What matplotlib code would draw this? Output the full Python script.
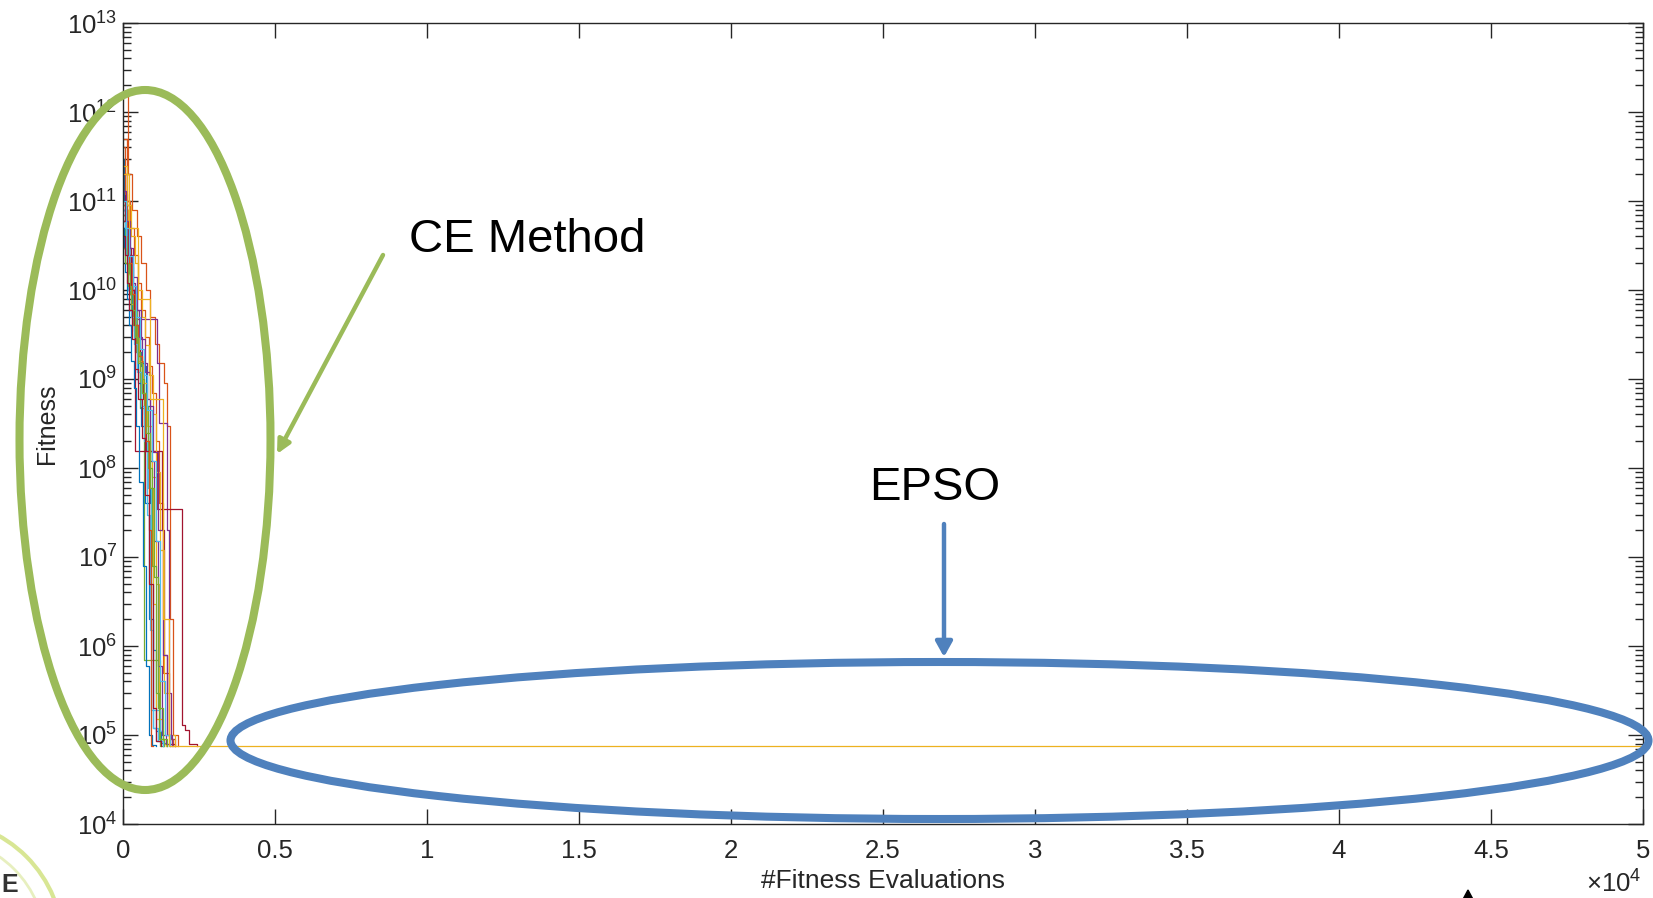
import numpy as np
import matplotlib
matplotlib.use("Agg")
import matplotlib.pyplot as plt
from matplotlib.patches import Ellipse, Arc, Polygon
from matplotlib.ticker import LogLocator, FixedLocator, FuncFormatter

plt.rcParams["font.family"] = ["Liberation Sans", "DejaVu Sans"]
plt.rcParams["mathtext.fontset"] = "custom"
plt.rcParams["mathtext.rm"] = "Liberation Sans"
plt.rcParams["mathtext.it"] = "Liberation Sans:italic"

# MATLAB default colour order
matlab_colors = ["#0072BD", "#D95319", "#EDB120", "#7E2F8E", "#77AC30", "#4DBEEE", "#A2142F"]

# CE method runs: evaluations and best fitness
ce_x_01 = [0, 50, 120, 200, 280, 350, 450, 600, 750, 900, 1000, 1100, 1250, 1450]
ce_y_01 = [1.1e11, 7e10, 3e10, 1.5e10, 6e9, 3.5e9, 2e9, 1.4e9, 5e8, 4e7, 9e5, 1.1e5, 8.2e4, 7.5e4]
ce_x_02 = [0, 150, 300, 450, 600, 750, 900, 1050, 1200, 1350, 1450, 1550, 1650, 1800]
ce_y_02 = [1.5e12, 2e11, 8e10, 4e10, 2e10, 1e10, 5e9, 2.5e9, 1.5e9, 9e8, 3e8, 2e6, 1e5, 7.5e4]
ce_x_03 = [0, 80, 160, 240, 330, 420, 520, 640, 760, 880, 980, 1080, 1200, 1350]
ce_y_03 = [1.5e11, 8e10, 3e10, 1.2e10, 7e9, 4e9, 1.8e9, 7e8, 2e8, 6e7, 3e6, 1.5e5, 9e4, 7.5e4]
ce_x_04 = [0, 100, 200, 330, 460, 1120, 1200, 1450, 1500, 1580, 1700]
ce_y_04 = [6e10, 4.5e10, 2e10, 1e10, 4.7e9, 1.5e9, 3.2e8, 2e7, 3e5, 9e4, 7.5e4]
ce_x_05 = [0, 100, 200, 300, 450, 550, 700, 1220, 1300]
ce_y_05 = [9e10, 4e10, 1.5e10, 6e9, 2e9, 4.7e8, 7e5, 7.5e4, 7.5e4]
ce_x_06 = [0, 60, 140, 230, 330, 430, 560, 700, 820, 930, 1220, 1300, 1450]
ce_y_06 = [2e11, 9e10, 4e10, 1.8e10, 8e9, 3e9, 1.2e9, 4e8, 6e7, 1.9e5, 1.1e5, 8e4, 7.5e4]
ce_x_07 = [0, 100, 250, 400, 550, 650, 750, 1120, 1930, 2050, 2180, 2430]
ce_y_07 = [6e10, 3e10, 1e10, 4e9, 1.5e9, 6e8, 1.55e8, 3.5e7, 1.3e5, 1.15e5, 8e4, 7.5e4]
ce_x_08 = [0, 40, 90, 150, 220, 300, 380, 480, 600, 720, 850, 980, 1100, 1300]
ce_y_08 = [3e11, 1e11, 5e10, 2e10, 9e9, 4e9, 2e9, 9e8, 3e8, 4e7, 2e6, 1.2e5, 8.5e4, 7.5e4]
ce_x_09 = [0, 120, 240, 360, 480, 600, 720, 840, 960, 1080, 1200, 1320, 1500, 1650]
ce_y_09 = [5e11, 1e11, 5e10, 2.5e10, 1.2e10, 6e9, 3e9, 1.4e9, 7e8, 2e8, 4e7, 5e5, 9e4, 7.5e4]
ce_x_10 = [0, 70, 150, 250, 350, 500, 650, 800, 950, 1080, 1180, 1300, 1400]
ce_y_10 = [4e10, 3e10, 1.5e10, 7e9, 3e9, 1.6e9, 9e8, 3e8, 8e7, 5e6, 1.5e5, 8e4, 7.5e4]
ce_x_11 = [0, 90, 180, 280, 400, 520, 640, 780, 900, 1020, 1150, 1280, 1400, 1550]
ce_y_11 = [1e11, 5e10, 2.5e10, 1.2e10, 6e9, 3e9, 1.5e9, 6e8, 1.2e8, 1.5e7, 6e5, 1e5, 8e4, 7.5e4]
ce_x_12 = [0, 60, 130, 220, 320, 440, 560, 690, 820, 950, 1080, 1200, 1350]
ce_y_12 = [7e10, 4e10, 2e10, 9e9, 4e9, 2e9, 1e9, 5e8, 1e8, 8e6, 3e5, 9e4, 7.5e4]
ce_x_13 = [0, 50, 110, 180, 260, 350, 460, 580, 700, 800, 900, 1000, 1150, 1300]
ce_y_13 = [8e10, 5e10, 2.5e10, 1e10, 5e9, 2.5e9, 1.2e9, 5e8, 2e8, 3e7, 1.5e6, 1.2e5, 8.5e4, 7.5e4]
ce_x_14 = [0, 80, 170, 260, 360, 400, 1290, 1350, 1450, 1550, 1700]
ce_y_14 = [2e11, 6e10, 2.5e10, 1e10, 4e9, 1.55e8, 2e7, 8e5, 1e5, 8e4, 7.5e4]
ce_x_15 = [0, 30, 80, 140, 200, 270, 350, 440, 540, 650, 760, 860, 950, 1100]
ce_y_15 = [5e10, 3e10, 1.6e10, 8e9, 4e9, 1.6e9, 8e8, 3e8, 7e7, 8e6, 6e5, 1e5, 7.8e4, 7.5e4]
ce_x_16 = [0, 60, 130, 210, 300, 400, 500, 620, 740, 860, 910, 1000]
ce_y_16 = [4e11, 1.2e11, 5e10, 2e10, 9e9, 4e9, 1.8e9, 7e8, 2e8, 2e7, 7.5e4, 7.5e4]
ce_x_17 = [0, 120, 250, 380, 500, 620, 740, 860, 980, 1100, 1220, 1350, 1500, 1700]
ce_y_17 = [2.5e11, 9e10, 4e10, 2e10, 1e10, 5e9, 2.4e9, 1.1e9, 4e8, 9e7, 1.2e7, 3e5, 1e5, 7.5e4]
ce_x_18 = [0, 100, 220, 340, 460, 600, 740, 880, 1000, 1150, 1300, 1450, 1600]
ce_y_18 = [1.3e11, 6e10, 3e10, 1.4e10, 6e9, 2.8e9, 1.2e9, 5e8, 1.5e8, 2e7, 8e5, 1e5, 7.5e4]
ce_x_19 = [0, 70, 160, 260, 380, 500, 630, 760, 900, 1030, 1160, 1300, 1450]
ce_y_19 = [3e10, 2e10, 1.1e10, 6e9, 3e9, 1.5e9, 7e8, 2.5e8, 6e7, 6e6, 2e5, 9e4, 7.5e4]
ce_x_20 = [0, 100, 200, 320, 440, 560, 680, 800, 940, 1080, 1220, 1380, 1550]
ce_y_20 = [1e11, 5e10, 2.4e10, 1.1e10, 5e9, 2.2e9, 1.1e9, 4.5e8, 1.2e8, 1.5e7, 4e5, 1e5, 7.5e4]
ce_x_21 = [0, 50, 120, 200, 290, 390, 500, 620, 740, 860, 980, 1100, 1250]
ce_y_21 = [4e10, 2.5e10, 1.2e10, 6e9, 2.8e9, 1.3e9, 6e8, 2.2e8, 5e7, 5e6, 2e5, 8.5e4, 7.5e4]

ce_runs = [
    (ce_x_01, ce_y_01), (ce_x_02, ce_y_02), (ce_x_03, ce_y_03), (ce_x_04, ce_y_04),
    (ce_x_05, ce_y_05), (ce_x_06, ce_y_06), (ce_x_07, ce_y_07), (ce_x_08, ce_y_08),
    (ce_x_09, ce_y_09), (ce_x_10, ce_y_10), (ce_x_11, ce_y_11), (ce_x_12, ce_y_12),
    (ce_x_13, ce_y_13), (ce_x_14, ce_y_14), (ce_x_15, ce_y_15), (ce_x_16, ce_y_16),
    (ce_x_17, ce_y_17), (ce_x_18, ce_y_18), (ce_x_19, ce_y_19), (ce_x_20, ce_y_20),
    (ce_x_21, ce_y_21),
]

# EPSO run (flat for the whole budget)
epso_x = [0, 200, 500, 900, 1300, 1500, 50000]
epso_y = [2e11, 5e10, 8e9, 6e8, 2e6, 7.5e4, 7.5e4]

x_ticks = [0, 5000, 10000, 15000, 20000, 25000, 30000, 35000, 40000, 45000, 50000]
y_ticks = [1e4, 1e5, 1e6, 1e7, 1e8, 1e9, 1e10, 1e11, 1e12, 1e13]

W, H = 1653, 898


def px(x, y):
    # pixel position (from top-left) -> figure fraction
    return (x / W, 1 - y / H)


fig = plt.figure(figsize=(W / 100, H / 100), dpi=100)
ax = fig.add_axes([123 / W, 1 - 824 / H, 1520 / W, 801 / H])

for i, (xs, ys) in enumerate(ce_runs):
    ax.step(xs, ys, where="post", lw=0.9, color=matlab_colors[i % 7])
ax.step(epso_x, epso_y, where="post", lw=0.9, color="#EDB120")

ax.set_yscale("log")
ax.set_xlim(0, 50000)
ax.set_ylim(1e4, 1e13)
ax.xaxis.set_major_locator(FixedLocator(x_ticks))
ax.xaxis.set_major_formatter(FuncFormatter(lambda v, p: f"{v / 1e4:g}"))
ax.yaxis.set_major_locator(FixedLocator(y_ticks))
ax.yaxis.set_minor_locator(LogLocator(base=10, subs=np.arange(2, 10), numticks=100))
ax.yaxis.set_major_formatter(FuncFormatter(lambda v, p: r"$\mathdefault{10^{%d}}$" % round(np.log10(v))))

dark = "#262626"
ax.tick_params(which="both", direction="in", top=True, right=True, colors=dark,
               labelsize=18.5, width=1.0)
ax.tick_params(which="major", length=11)
ax.tick_params(axis="x", which="major", pad=11)
ax.tick_params(axis="y", which="major", pad=4)
ax.tick_params(which="minor", length=5.5)
for s in ax.spines.values():
    s.set_color(dark)
    s.set_linewidth(1.0)

ax.set_xlabel("#Fitness Evaluations", fontsize=19, color=dark, labelpad=4)
ax.set_ylabel("Fitness", fontsize=18, color=dark, labelpad=6)
fig.text(*px(1614, 884), r"$\times\mathdefault{10^{4}}$", fontsize=18.5, color=dark,
         ha="center", va="center")

# annotation overlays
green = "#9BBB59"
blue = "#4F81BD"
cx, cy = px(145, 440)
fig.add_artist(Ellipse((cx, cy), 251 / W, 700 / H, transform=fig.transFigure,
                       fill=False, ec=green, lw=5.8, zorder=5))
cx, cy = px(939.5, 740.5)
fig.add_artist(Ellipse((cx, cy), 1418 / W, 157 / H, transform=fig.transFigure,
                       fill=False, ec=blue, lw=5.8, zorder=5))

fig.add_artist(plt.Annotation("", xy=px(277, 454), xytext=px(383, 255),
                              xycoords="figure fraction", textcoords="figure fraction",
                              arrowprops=dict(arrowstyle="-|>,head_length=0.8,head_width=0.4",
                                              color=green, lw=3.2, shrinkA=0, shrinkB=0)))
fig.add_artist(plt.Annotation("", xy=px(944, 657), xytext=px(944, 524),
                              xycoords="figure fraction", textcoords="figure fraction",
                              arrowprops=dict(arrowstyle="-|>,head_length=0.9,head_width=0.5",
                                              color=blue, lw=3.2, shrinkA=0, shrinkB=0)))

fig.text(*px(409, 240), "CE Method", fontsize=34, color="black", ha="left", va="center")
fig.text(*px(869, 488), "EPSO", fontsize=34, color="black", ha="left", va="center")

# slide decoration fragments at the edges
fig.add_artist(Arc(px(-62, 945), 250 / W, 250 / H, theta1=0, theta2=90,
                   transform=fig.transFigure, color="#cfe07a", lw=3, alpha=0.8))
fig.add_artist(Arc(px(-62, 945), 215 / W, 215 / H, theta1=0, theta2=90,
                   transform=fig.transFigure, color="#e2ecb0", lw=2, alpha=0.8))
fig.text(*px(1, 885), "E", fontsize=18, fontweight="bold", color="#333333",
         ha="left", va="center")
fig.add_artist(Polygon([px(1460, 905), px(1468, 890), px(1476, 905)], closed=True,
                       transform=fig.transFigure, color="black"))

fig.savefig("out.png", dpi=100)
